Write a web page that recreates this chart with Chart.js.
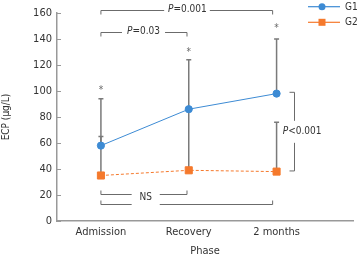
<!DOCTYPE html>
<html>
<head>
<meta charset="utf-8">
<script src="https://cdn.jsdelivr.net/npm/chart.js@4.4.1/dist/chart.umd.min.js"></script>
<style>
  html, body { margin: 0; padding: 0; background: #fff; }
  #wrap { width: 359px; height: 259px; }
</style>
</head>
<body>
<div id="wrap"><canvas id="ecpChart" width="359" height="259"></canvas></div>
<script>
// values
const phases = ['Admission', 'Recovery', '2 months'];
const g1Mean = [58, 86, 98];
const g2Mean = [35, 39, 38];
const g1Upper = [94, 124, 140];
const g2Upper = [65, 87, 76];
const starValues = [102, 131, 150];

const FONT = "'DejaVu Sans Condensed', 'Roboto', 'Liberation Sans', sans-serif";
const BLUE = '#3d8bd4';
const ORANGE = '#f5792c';
const GREY = '#7a7a7a';

function pts(arr) {
    return arr.map((v, i) => ({ x: i, y: v }));
}

// draws "P=..." with italic P, centred at cx, cy
function pText(ctx, str, cx, cy) {
    const first = str[0];
    const rest = str.slice(1);
    ctx.font = 'italic 10px ' + FONT;
    const w1 = ctx.measureText(first).width;
    ctx.font = '10px ' + FONT;
    const w2 = ctx.measureText(rest).width;
    let x = cx - (w1 + w2) / 2;
    ctx.textBaseline = 'middle';
    ctx.textAlign = 'left';
    ctx.font = 'italic 10px ' + FONT;
    ctx.fillText(first, x, cy);
    ctx.font = '10px ' + FONT;
    ctx.fillText(rest, x + w1, cy);
}

const extrasPlugin = {
    id: 'extras',
    beforeDatasetsDraw(chart) {
        const ctx = chart.ctx;
        const xs = chart.scales.x, ys = chart.scales.y;
        ctx.save();
        // error bars (upper only)
        ctx.strokeStyle = GREY;
        ctx.lineWidth = 1.5;
        [[g1Mean, g1Upper], [g2Mean, g2Upper]].forEach(([m, u]) => {
            m.forEach((v, i) => {
                const x = xs.getPixelForValue(i);
                const y0 = ys.getPixelForValue(v);
                const y1 = ys.getPixelForValue(u[i]);
                ctx.beginPath();
                ctx.moveTo(x, y0);
                ctx.lineTo(x, y1);
                ctx.moveTo(x - 2.5, y1);
                ctx.lineTo(x + 2.5, y1);
                ctx.stroke();
            });
        });
        // inward y ticks
        ctx.strokeStyle = '#999';
        ctx.lineWidth = 1;
        ys.ticks.forEach(t => {
            const y = Math.round(ys.getPixelForValue(t.value)) + 0.5;
            ctx.beginPath();
            ctx.moveTo(xs.left, y);
            ctx.lineTo(xs.left + 4, y);
            ctx.stroke();
        });
        ctx.restore();
    },
    afterDraw(chart) {
        const ctx = chart.ctx;
        const xs = chart.scales.x, ys = chart.scales.y;
        const px = v => xs.getPixelForValue(v);
        const py = v => ys.getPixelForValue(v);
        ctx.save();

        // asterisks
        ctx.fillStyle = '#666';
        ctx.font = '10px ' + FONT;
        ctx.textAlign = 'center';
        ctx.textBaseline = 'middle';
        starValues.forEach((v, i) => ctx.fillText('*', px(i), py(v) + 2));

        // horizontal brackets
        ctx.strokeStyle = '#6b6b6b';
        ctx.lineWidth = 1;
        function hBracket(x1, x2, yv, dir, g1, g2) {
            const a = px(x1), b = px(x2), y = Math.round(py(yv)) + 0.5;
            ctx.beginPath();
            ctx.moveTo(a, y + dir * 4);
            ctx.lineTo(a, y);
            ctx.lineTo(px(g1), y);
            ctx.moveTo(px(g2), y);
            ctx.lineTo(b, y);
            ctx.lineTo(b, y + dir * 4);
            ctx.stroke();
        }
        hBracket(0, 1.955, 162.4, 1, 0.72, 1.24);
        hBracket(0, 0.98, 145.7, 1, 0.24, 0.73);
        hBracket(0, 0.98, 21.1, -1, 0.35, 0.67);
        hBracket(0, 1.955, 12.9, -1, 0.35, 0.67);

        // vertical bracket on the right
        const vx = Math.round(px(2.2)) + 0.5;
        const top = py(99), bot = py(38.5), mid = py(68.6);
        ctx.beginPath();
        ctx.moveTo(vx - 5, top);
        ctx.lineTo(vx, top);
        ctx.lineTo(vx, mid - 11);
        ctx.moveTo(vx, mid + 11);
        ctx.lineTo(vx, bot);
        ctx.lineTo(vx - 5, bot);
        ctx.stroke();

        ctx.fillStyle = '#333';
        pText(ctx, 'P=0.001', px(0.985), py(162.4));
        pText(ctx, 'P=0.03', px(0.485), py(145.7));
        pText(ctx, 'P<0.001', px(2.29), mid);
        ctx.font = '10px ' + FONT;
        ctx.textAlign = 'center';
        ctx.fillText('NS', px(0.51), py(18.5));

        // legend: line with marker
        const legend = [['G1', BLUE, 'circle', 6.7], ['G2', ORANGE, 'rect', 22.3]];
        legend.forEach(([name, col, shape, y]) => {
            ctx.strokeStyle = col;
            ctx.fillStyle = col;
            ctx.lineWidth = 1.2;
            ctx.beginPath();
            ctx.moveTo(308, y);
            ctx.lineTo(340, y);
            ctx.stroke();
            if (shape === 'circle') {
                ctx.beginPath();
                ctx.arc(322, y, 3.5, 0, Math.PI * 2);
                ctx.fill();
            } else {
                ctx.fillRect(318.5, y - 3.5, 7, 7);
            }
            ctx.fillStyle = '#333';
            ctx.font = '10px ' + FONT;
            ctx.textAlign = 'left';
            ctx.textBaseline = 'middle';
            ctx.fillText(name, 345, y + 0.5);
        });
        ctx.restore();
    }
};

new Chart(document.getElementById('ecpChart').getContext('2d'), {
    type: 'line',
    data: {
        datasets: [
            {
                label: 'G1',
                data: pts(g1Mean),
                borderColor: BLUE,
                backgroundColor: BLUE,
                borderWidth: 1,
                pointStyle: 'circle',
                pointRadius: 3.6,
                pointHoverRadius: 3.6
            },
            {
                label: 'G2',
                data: pts(g2Mean),
                borderColor: ORANGE,
                backgroundColor: ORANGE,
                borderWidth: 1,
                borderDash: [3, 2],
                pointStyle: 'rect',
                pointRadius: 5,
                pointHoverRadius: 5
            }
        ]
    },
    options: {
        responsive: false,
        animation: false,
        events: [],
        layout: { padding: { top: 13, right: 2, left: 0, bottom: 0 } },
        plugins: {
            legend: { display: false },
            tooltip: { enabled: false }
        },
        scales: {
            x: {
                type: 'linear',
                min: -0.5,
                max: 2.87,
                afterBuildTicks: s => { s.ticks = phases.map((p, i) => ({ value: i })); },
                afterFit: s => { s.height = 38; },
                grid: { display: false, drawTicks: false },
                border: { color: '#999', width: 1.5 },
                ticks: {
                    callback: v => phases[v],
                    color: '#333',
                    padding: 5,
                    maxRotation: 0,
                    font: { family: FONT, size: 11 }
                },
                title: {
                    display: true,
                    text: 'Phase',
                    color: '#333',
                    padding: { top: 0, bottom: 1 },
                    font: { family: FONT, size: 11 }
                }
            },
            y: {
                min: 0,
                max: 160,
                afterFit: s => { s.width = 57; },
                grid: { display: false, drawTicks: false },
                border: { color: '#999', width: 1.5 },
                ticks: {
                    stepSize: 20,
                    color: '#333',
                    padding: 5,
                    font: { family: FONT, size: 11 }
                },
                title: {
                    display: true,
                    text: 'ECP (µg/L)',
                    color: '#333',
                    padding: { top: 0, bottom: 0 },
                    font: { family: FONT, size: 10 }
                }
            }
        }
    },
    plugins: [extrasPlugin]
});
</script>
</body>
</html>
